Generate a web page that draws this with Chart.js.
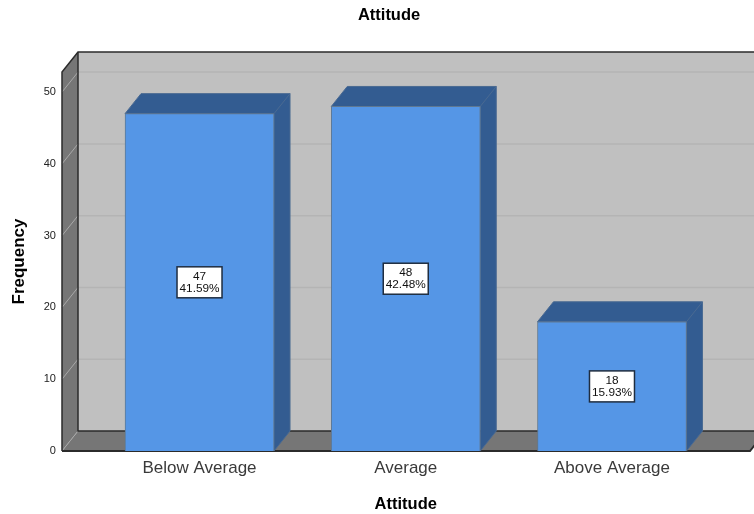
<!DOCTYPE html>
<html>
<head>
<meta charset="utf-8">
<title>Attitude</title>
<script src="https://cdn.jsdelivr.net/npm/chart.js@4/dist/chart.umd.min.js"></script>
<style>
  html, body { margin: 0; padding: 0; background: #fff; overflow: hidden; }
  canvas { display: block; }
</style>
</head>
<body>
<canvas id="chart" width="754" height="514"></canvas>
<script>
const categories = ['Below Average', 'Average', 'Above Average'];
const frequencies = [47, 48, 18];
const percents = ['41.59%', '42.48%', '15.93%'];
const yTicks = [0, 10, 20, 30, 40, 50];

// depth of the fake 3D box, in pixels
const DX = 16;
const DY = 20;
const WALL_LEFT = 62;
const FLOOR_RIGHT = 750;

const box3d = {
  id: 'box3d',
  // the heading sits right of the canvas middle
  afterLayout(chart) {
    chart.titleBlock.left += 19.5;
    chart.titleBlock.right += 19.5;
  },
  // walls, floor and gridlines behind the bars
  beforeDatasetsDraw(chart) {
    const { ctx, chartArea, scales } = chart;
    const top = chartArea.top;
    const base = chartArea.bottom;
    const y = scales.y;

    ctx.save();
    ctx.fillStyle = '#c0c0c0';
    ctx.fillRect(WALL_LEFT + DX, top - DY, FLOOR_RIGHT - WALL_LEFT, base - top);

    // left wall
    ctx.fillStyle = '#767676';
    ctx.beginPath();
    ctx.moveTo(WALL_LEFT, top);
    ctx.lineTo(WALL_LEFT + DX, top - DY);
    ctx.lineTo(WALL_LEFT + DX, base - DY);
    ctx.lineTo(WALL_LEFT, base);
    ctx.closePath();
    ctx.fill();

    // floor
    ctx.beginPath();
    ctx.moveTo(WALL_LEFT, base);
    ctx.lineTo(WALL_LEFT + DX, base - DY);
    ctx.lineTo(FLOOR_RIGHT + DX, base - DY);
    ctx.lineTo(FLOOR_RIGHT, base);
    ctx.closePath();
    ctx.fill();

    // gridlines run along the left wall and across the back
    yTicks.forEach(v => {
      const py = y.getPixelForValue(v);
      ctx.lineWidth = 1;
      ctx.strokeStyle = '#a9a9a9';
      ctx.beginPath();
      ctx.moveTo(WALL_LEFT, py);
      ctx.lineTo(WALL_LEFT + DX, py - DY);
      ctx.stroke();
      if (v > 0) {
        ctx.strokeStyle = '#b4b4b4';
        ctx.lineWidth = 1.5;
        ctx.beginPath();
        ctx.moveTo(WALL_LEFT + DX, py - DY);
        ctx.lineTo(FLOOR_RIGHT + DX, py - DY);
        ctx.stroke();
      }
    });

    // dark box edges
    ctx.strokeStyle = '#2b2b2b';
    ctx.lineWidth = 1.5;
    ctx.beginPath();
    ctx.moveTo(WALL_LEFT, base);
    ctx.lineTo(WALL_LEFT, top);
    ctx.lineTo(WALL_LEFT + DX, top - DY);
    ctx.lineTo(FLOOR_RIGHT + DX, top - DY);
    ctx.stroke();
    ctx.beginPath();
    ctx.moveTo(WALL_LEFT + DX, top - DY);
    ctx.lineTo(WALL_LEFT + DX, base - DY);
    ctx.lineTo(FLOOR_RIGHT + DX, base - DY);
    ctx.stroke();
    ctx.lineWidth = 2;
    ctx.beginPath();
    ctx.moveTo(WALL_LEFT, base);
    ctx.lineTo(FLOOR_RIGHT, base);
    ctx.lineTo(FLOOR_RIGHT + DX, base - DY);
    ctx.stroke();

    // top and side faces of each bar
    chart.getDatasetMeta(0).data.forEach(bar => {
      const { x, y: barTop, width, base: barBase } = bar.getProps(['x', 'y', 'width', 'base'], true);
      const l = x - width / 2;
      const r = x + width / 2;
      ctx.fillStyle = '#335c91';
      ctx.strokeStyle = '#4a6a92';
      ctx.lineWidth = 1;
      ctx.beginPath();
      ctx.moveTo(l, barTop);
      ctx.lineTo(l + DX, barTop - DY);
      ctx.lineTo(r + DX, barTop - DY);
      ctx.lineTo(r + DX, barBase - DY);
      ctx.lineTo(r, barBase);
      ctx.lineTo(r, barTop);
      ctx.closePath();
      ctx.fill();
      ctx.stroke();
      ctx.beginPath();
      ctx.moveTo(r, barTop);
      ctx.lineTo(r + DX, barTop - DY);
      ctx.stroke();
    });
    ctx.restore();
  },
  // count and percent boxes in the middle of each bar
  afterDatasetsDraw(chart) {
    const { ctx } = chart;
    ctx.save();
    ctx.textAlign = 'center';
    ctx.textBaseline = 'middle';
    ctx.font = '11.8px "Liberation Sans", Arial, sans-serif';
    chart.getDatasetMeta(0).data.forEach((bar, i) => {
      const { x, y: barTop, base: barBase } = bar.getProps(['x', 'y', 'base'], true);
      const cy = (barTop + barBase) / 2;
      ctx.fillStyle = '#fff';
      ctx.fillRect(x - 22.5, cy - 15.5, 45, 31);
      ctx.strokeStyle = '#1f2d40';
      ctx.lineWidth = 1.5;
      ctx.strokeRect(x - 22.5, cy - 15.5, 45, 31);
      ctx.fillStyle = '#111';
      ctx.fillText(String(frequencies[i]), x, cy - 6);
      ctx.fillText(percents[i], x, cy + 6.5);
    });
    ctx.restore();
  }
};

new Chart(document.getElementById('chart'), {
  type: 'bar',
  data: {
    labels: categories,
    datasets: [{
      data: frequencies,
      backgroundColor: '#5596e6',
      borderColor: '#5f7892',
      borderWidth: 1,
      barThickness: 149
    }]
  },
  plugins: [box3d],
  options: {
    responsive: false,
    animation: false,
    layout: { padding: { left: 24, right: 38.9 } },
    plugins: {
      legend: { display: false },
      tooltip: { enabled: false },
      title: {
        display: true,
        text: 'Attitude',
        color: '#000',
        font: { family: '"Liberation Sans", Arial, sans-serif', size: 16.5, weight: 'bold' },
        padding: { top: 6, bottom: 46.2 }
      }
    },
    scales: {
      x: {
        grid: { display: false, drawTicks: false },
        border: { display: false },
        ticks: {
          color: '#3a3a3a',
          padding: 7,
          maxRotation: 0,
          font: { family: '"Liberation Sans", Arial, sans-serif', size: 17 }
        },
        title: {
          display: true,
          text: 'Attitude',
          color: '#000',
          padding: { top: 1, bottom: 0 },
          font: { family: '"Liberation Sans", Arial, sans-serif', size: 16.5, weight: 'bold' }
        },
        afterFit(scale) { scale.height = 63; }
      },
      y: {
        min: 0,
        max: 52.8,
        grid: { display: false, drawTicks: false },
        border: { display: false },
        ticks: {
          stepSize: 10,
          includeBounds: false,
          color: '#222',
          padding: 40.5,
          font: { family: '"Liberation Sans", Arial, sans-serif', size: 11 }
        },
        title: {
          display: true,
          text: 'Frequency',
          color: '#000',
          padding: { top: -15, bottom: 0 },
          font: { family: '"Liberation Sans", Arial, sans-serif', size: 17, weight: 'bold' }
        },
        afterFit(scale) { scale.width = 72.4; }
      }
    }
  }
});
</script>
</body>
</html>
